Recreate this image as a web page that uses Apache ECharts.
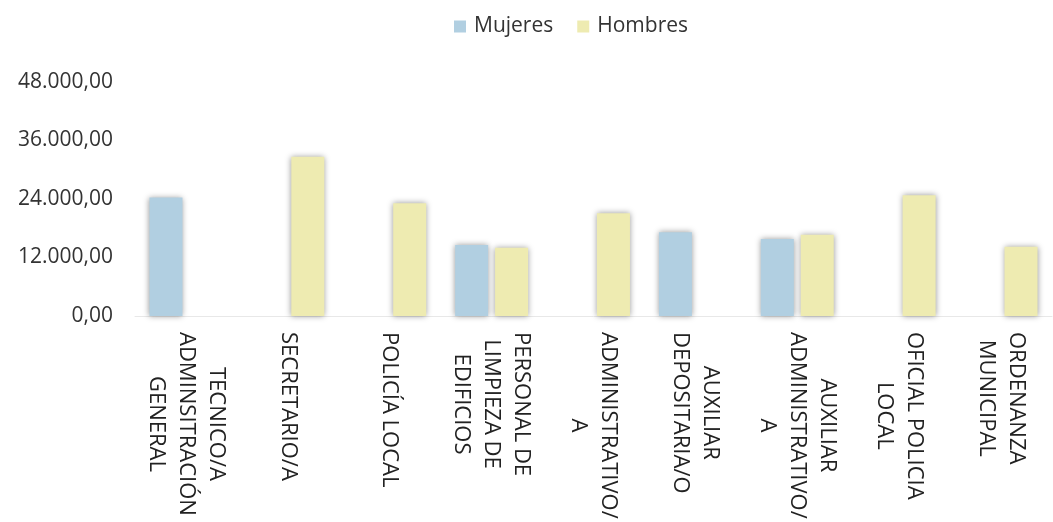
<!DOCTYPE html>
<html>
<head>
<meta charset="utf-8">
<script src="https://cdn.jsdelivr.net/npm/echarts@6/dist/echarts.min.js"></script>
<style>html,body{margin:0;padding:0;background:#fff;}#c{width:1053px;height:522px;}</style>
</head>
<body>
<div id="c"></div>
<script>
const categories = [
  "TECNICO/A\nADMINSITRACIÓN\nGENERAL",
  "SECRETARIO/A",
  "POLICÍA LOCAL",
  "PERSONAL DE\nLIMPIEZA DE\nEDIFICIOS",
  "ADMINISTRATIVO/\nA",
  "AUXILIAR\nDEPOSITARIA/O",
  "AUXILIAR\nADMINISTRATIVO/\nA",
  "OFICIAL POLICIA\nLOCAL",
  "ORDENANZA\nMUNICIPAL"
];
const mujeres = [24300, null, null, 14560, null, 17160, 15790, null, null];
const hombres = [null, 32670, 23110, 14010, 21060, null, 16680, 24750, 14220];
const seriesNames = ["Mujeres", "Hombres"];

const fmt = v => {
  const s = Math.round(v).toString().replace(/\B(?=(\d{3})+(?!\d))/g, ".");
  return s + ",00";
};

const chart = echarts.init(document.getElementById('c'));
const shadow = {shadowBlur: 6, shadowColor: 'rgba(0,0,0,0.4)', shadowOffsetX: 0, shadowOffsetY: 0};
chart.setOption({
  animation: false,
  legend: {
    top: 11, left: 449,
    itemWidth: 12, itemHeight: 12, itemGap: 24,
    icon: 'rect',
    textStyle: {fontFamily: 'Open Sans', fontSize: 21, color: '#333', padding: [0, 0, 0, 3]},
    data: seriesNames
  },
  grid: {left: 135, right: 1, top: 82, bottom: 206},
  xAxis: {
    type: 'category',
    data: categories,
    axisLine: {lineStyle: {color: '#e8e8e8'}},
    axisTick: {lineStyle: {color: '#e8e8e8'}, length: 6},
    axisLabel: {
      rotate: -90,
      interval: 0,
      margin: 16,
      formatter: v => v.split('\n').map(l => '{c|' + l + '}').join('\n'),
      rich: {c: {align: 'center', fontFamily: 'Open Sans', fontSize: 22, color: '#222', lineHeight: 30}}
    }
  },
  yAxis: {
    type: 'value',
    min: 0, max: 48000, interval: 12000,
    splitLine: {show: false},
    axisLine: {show: false},
    axisTick: {show: false},
    axisLabel: {formatter: fmt, fontFamily: 'Open Sans', fontSize: 21, color: '#333', margin: 22}
  },
  series: [
    {name: seriesNames[0], type: 'bar', data: mujeres, barWidth: 33, barGap: '21%',
     itemStyle: Object.assign({color: '#b1cfe1'}, shadow)},
    {name: seriesNames[1], type: 'bar', data: hombres, barWidth: 33,
     itemStyle: Object.assign({color: '#eeebb1'}, shadow)}
  ]
});
</script>
</body>
</html>
